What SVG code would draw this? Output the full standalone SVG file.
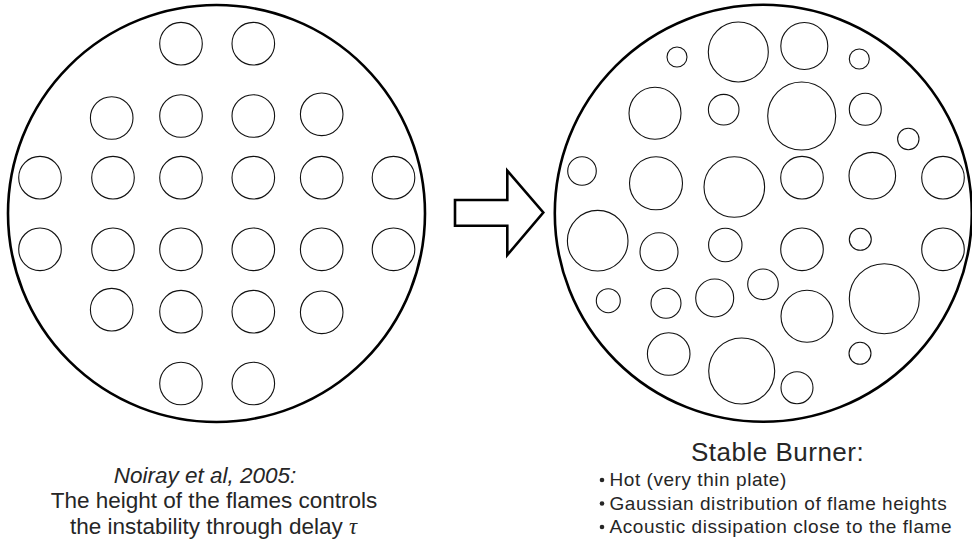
<svg xmlns="http://www.w3.org/2000/svg" width="972" height="545" viewBox="0 0 972 545">
  <style>
    .plate { fill: none; stroke: #000; stroke-width: 2.6; }
    .hole { fill: none; stroke: #111; stroke-width: 1.1; }
    .arrow { fill: #fff; stroke: #000; stroke-width: 2.6; stroke-linejoin: miter; }
    .txt { font-family: "Liberation Sans", Arial, Helvetica, sans-serif; fill: #262626; }
    .cap { font-size: 22.5px; text-anchor: middle; }
    .title { font-size: 26px; letter-spacing: 0.5px; }
    .item { font-size: 19px; letter-spacing: 0.55px; }
    .dot { fill: #262626; }
  </style>

  <!-- Left burner plate: regular hole pattern -->
  <g id="regular-burner">
    <circle class="plate" cx="216.5" cy="213.5" r="208.5"/>
    <g id="regular-holes">
      <circle class="hole" cx="181" cy="43.7" r="21.3"/>
      <circle class="hole" cx="253.3" cy="43.7" r="21.3"/>

      <circle class="hole" cx="111.7" cy="118" r="21.3"/>
      <circle class="hole" cx="181" cy="116" r="21.3"/>
      <circle class="hole" cx="253.3" cy="116" r="21.3"/>
      <circle class="hole" cx="321.7" cy="114.3" r="21.3"/>

      <circle class="hole" cx="40" cy="177.7" r="21.3"/>
      <circle class="hole" cx="113" cy="177.7" r="21.3"/>
      <circle class="hole" cx="181" cy="177.7" r="21.3"/>
      <circle class="hole" cx="253.3" cy="177.7" r="21.3"/>
      <circle class="hole" cx="321.7" cy="177.7" r="21.3"/>
      <circle class="hole" cx="393.5" cy="177.7" r="21.3"/>

      <circle class="hole" cx="40" cy="249.3" r="21.3"/>
      <circle class="hole" cx="113" cy="249.3" r="21.3"/>
      <circle class="hole" cx="181" cy="249.3" r="21.3"/>
      <circle class="hole" cx="253.3" cy="249.3" r="21.3"/>
      <circle class="hole" cx="321.7" cy="249.3" r="21.3"/>
      <circle class="hole" cx="393.5" cy="249.3" r="21.3"/>

      <circle class="hole" cx="111.7" cy="309.7" r="21.3"/>
      <circle class="hole" cx="181" cy="311.7" r="21.3"/>
      <circle class="hole" cx="253.3" cy="311.7" r="21.3"/>
      <circle class="hole" cx="321.7" cy="312.3" r="21.3"/>

      <circle class="hole" cx="181" cy="383.5" r="21.3"/>
      <circle class="hole" cx="253.3" cy="383.5" r="21.3"/>
    </g>
  </g>

  <!-- Right burner plate: holes of mixed sizes -->
  <g id="stable-burner">
    <circle class="plate" cx="763.3" cy="213.3" r="208.5"/>
    <g id="mixed-holes">
      <circle class="hole" cx="677" cy="57" r="10"/>
      <circle class="hole" cx="738.3" cy="52" r="30"/>
      <circle class="hole" cx="804.3" cy="46" r="23.5"/>
      <circle class="hole" cx="859.3" cy="59" r="10"/>

      <circle class="hole" cx="655" cy="113.3" r="26"/>
      <circle class="hole" cx="723.7" cy="109.7" r="15.3"/>
      <circle class="hole" cx="801.7" cy="116" r="34"/>
      <circle class="hole" cx="865.3" cy="109.3" r="16"/>
      <circle class="hole" cx="908.3" cy="139" r="10.7"/>

      <circle class="hole" cx="582" cy="171" r="14.3"/>
      <circle class="hole" cx="656" cy="183.3" r="26.5"/>
      <circle class="hole" cx="734.3" cy="187" r="30.3"/>
      <circle class="hole" cx="802" cy="177.7" r="21.3"/>
      <circle class="hole" cx="872.3" cy="175.7" r="23.3"/>
      <circle class="hole" cx="943" cy="177.7" r="21.3"/>

      <circle class="hole" cx="597.7" cy="240.7" r="30.3"/>
      <circle class="hole" cx="659" cy="251.7" r="19"/>
      <circle class="hole" cx="725.3" cy="245" r="16.7"/>
      <circle class="hole" cx="802" cy="249.3" r="21.3"/>
      <circle class="hole" cx="860.3" cy="239.3" r="11"/>
      <circle class="hole" cx="943" cy="249.3" r="21.3"/>

      <circle class="hole" cx="608.3" cy="300.7" r="12"/>
      <circle class="hole" cx="666" cy="303.3" r="15"/>
      <circle class="hole" cx="714.7" cy="298" r="19"/>
      <circle class="hole" cx="763" cy="284.3" r="15.3"/>
      <circle class="hole" cx="807" cy="316.3" r="26"/>
      <circle class="hole" cx="884.3" cy="298.7" r="35"/>

      <circle class="hole" cx="668.7" cy="354" r="21.3"/>
      <circle class="hole" cx="741.7" cy="371" r="33"/>
      <circle class="hole" cx="797" cy="387.7" r="16"/>
      <circle class="hole" cx="860" cy="353.3" r="11"/>
    </g>
  </g>

  <!-- Block arrow between the two plates -->
  <g id="connectors">
    <polygon class="arrow" points="455,200 507.3,200 507.3,170.7 543.3,212.5 507.3,255 507.3,225.7 455,225.7"/>
  </g>

  <!-- Caption under the left plate -->
  <g id="left-caption" class="txt">
    <text class="cap" x="205" y="482.5" font-style="italic">Noiray et al, 2005:</text>
    <text class="cap" x="214" y="508">The height of the flames controls</text>
    <text class="cap" x="213.5" y="533.5">the instability through delay <tspan font-family="'Liberation Serif', 'DejaVu Serif', serif" font-style="italic">τ</tspan></text>
  </g>

  <!-- Caption under the right plate -->
  <g id="right-caption" class="txt">
    <text class="title" x="691" y="461">Stable Burner:</text>
    <circle class="dot" cx="602" cy="480" r="2.3"/>
    <text class="item" x="609.5" y="486">Hot (very thin plate)</text>
    <circle class="dot" cx="602" cy="503.5" r="2.3"/>
    <text class="item" x="609.5" y="509.5">Gaussian distribution of flame heights</text>
    <circle class="dot" cx="602" cy="527" r="2.3"/>
    <text class="item" x="609.5" y="533">Acoustic dissipation close to the flame</text>
  </g>
</svg>
